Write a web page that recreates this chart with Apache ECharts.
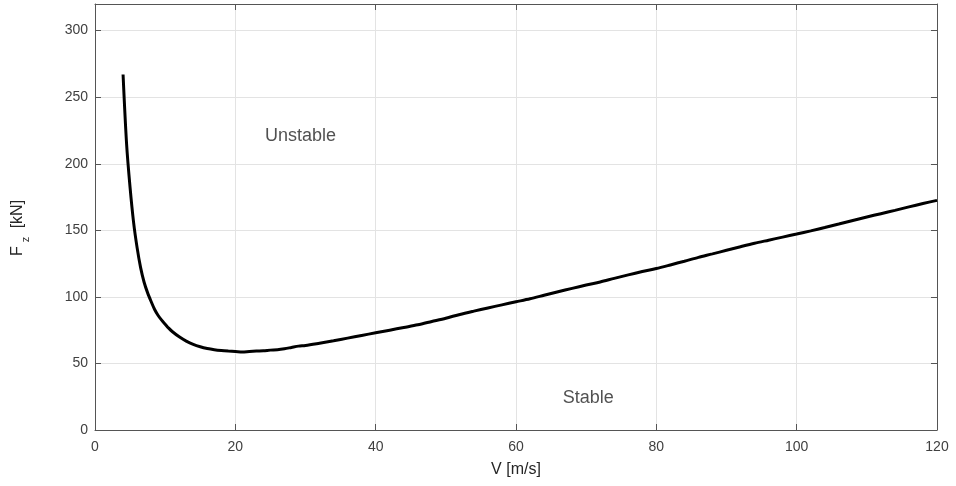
<!DOCTYPE html>
<html>
<head>
<meta charset="utf-8">
<script src="https://cdn.jsdelivr.net/npm/echarts@6/dist/echarts.min.js"></script>
<style>
html,body{margin:0;padding:0;background:#fff;}
#chart{width:956px;height:486px;}
</style>
</head>
<body>
<div id="chart"></div>
<script>
// Speed V [m/s]
const speeds = [4,4.5,5,5.5,6,6.5,7,7.5,8,8.5,9,9.5,10,10.5,11,12,13,14,15,16,17,18,19,20,21,22,23,24,25,26,27,28,29,30,
  32,34,36,38,40,42,44,46,48,50,52,54,56,58,60,62,64,66,68,70,72,74,76,78,80,
  82,84,86,88,90,92,94,96,98,100,102,104,106,108,110,112,114,116,118,120];
// Fz [kN]
const forces = [267,215,182,156,137,122,111,103,96.5,90.5,86,82.5,79.5,76.5,74,70,66.8,64.3,62.5,61.2,60.3,59.7,59.3,59,58.6,59,59.3,59.5,60,60.3,61,62,63,63.5,
  65.2,67,69,71,73,75,77,79,81.5,84,86.8,89.3,91.7,94,96.3,98.6,101.2,103.8,106.4,108.9,111.2,113.9,116.5,119,121.3,
  124,126.8,129.7,132.3,135,137.7,140.3,142.6,144.9,147.2,149.6,152.1,154.7,157.4,160,162.5,165,167.6,170.1,172.5];
const xTicks = [0,20,40,60,80,100,120];
const yTicks = [0,50,100,150,200,250,300];
const annotations = [
  {text: 'Unstable', v: 29.3, f: 221},
  {text: 'Stable', v: 70.3, f: 24}
];

const font = 'Arial, "Liberation Sans", Helvetica, sans-serif';
const axisColor = '#555555';
const labelColor = '#404040';
const gridColor = '#e3e3e3';

const chart = echarts.init(document.getElementById('chart'));
const baseX = {
  type: 'value', min: 0, max: 120, interval: 20,
  axisLine: {show: true, onZero: false, lineStyle: {color: axisColor, width: 1}},
  axisTick: {show: true, inside: true, length: 6, lineStyle: {color: axisColor}},
};
const baseY = {
  type: 'value', min: 0, max: 320, interval: 50,
  axisLine: {show: true, onZero: false, lineStyle: {color: axisColor, width: 1}},
  axisTick: {show: true, inside: true, length: 6, lineStyle: {color: axisColor}},
};
chart.setOption({
  animation: false,
  grid: {left: 95, right: 19, top: 4, bottom: 56, containLabel: false},
  xAxis: [
    Object.assign({}, baseX, {
      position: 'bottom',
      name: 'V [m/s]', nameLocation: 'middle', nameGap: 32,
      nameTextStyle: {color: '#262626', fontSize: 16, fontFamily: font},
      axisLabel: {color: labelColor, fontSize: 14, fontFamily: font, margin: 10,
        formatter: v => xTicks.includes(v) ? String(v) : ''},
      splitLine: {show: true, lineStyle: {color: gridColor, width: 1}}
    }),
    Object.assign({}, baseX, {
      position: 'top',
      axisLabel: {show: false},
      splitLine: {show: false}
    })
  ],
  yAxis: [
    Object.assign({}, baseY, {
      position: 'left',
      name: 'F{sub|z} [kN]', nameLocation: 'middle', nameGap: 64, nameRotate: 90,
      nameTextStyle: {color: '#262626', fontSize: 16, fontFamily: font, padding: [0, 22, 0, 0],
        rich: {sub: {fontSize: 11, fontFamily: font, color: '#262626', padding: [16, 4, 0, 4]}}},
      axisLabel: {color: labelColor, fontSize: 14, fontFamily: font, margin: 7,
        formatter: v => yTicks.includes(v) ? String(v) : ''},
      splitLine: {show: true, lineStyle: {color: gridColor, width: 1}}
    }),
    Object.assign({}, baseY, {
      position: 'right',
      axisLabel: {show: false},
      splitLine: {show: false}
    })
  ],
  series: [
    {
      type: 'line',
      data: speeds.map((v, i) => [v, forces[i]]),
      showSymbol: false,
      smooth: 0.3,
      lineStyle: {color: '#000', width: 3},
      xAxisIndex: 0, yAxisIndex: 0,
      z: 5
    },
    {
      type: 'scatter',
      symbolSize: 0,
      xAxisIndex: 0, yAxisIndex: 0,
      data: annotations.map(a => ({value: [a.v, a.f], name: a.text})),
      label: {show: true, position: 'inside', formatter: p => p.name,
        color: '#262626', fontSize: 18, fontFamily: font},
      silent: true
    }
  ]
});
</script>
</body>
</html>
